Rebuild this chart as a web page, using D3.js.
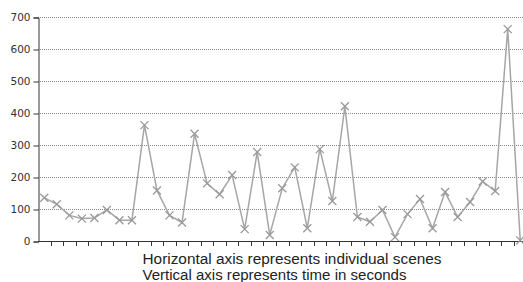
<!DOCTYPE html>
<html>
<head>
<meta charset="utf-8">
<script src="https://cdn.jsdelivr.net/npm/d3@7"></script>
<style>
  body { margin: 0; background: #fff; }
  svg { display: block; }
</style>
</head>
<body>
<div id="chart"></div>
<script>
// scene durations in seconds, one value per scene
var sceneTimes = [135, 115, 80, 70, 72, 97, 65, 65, 362, 158, 80, 58, 335, 180, 146, 206,
  37, 278, 19, 165, 230, 40, 287, 125, 421, 75, 60, 97, 12, 84, 131, 40, 153, 75, 122,
  186, 156, 662, 2];
var scenes = sceneTimes.map(function(d, i) { return i + 1; });
var yTicks = [0, 100, 200, 300, 400, 500, 600, 700];
var captions = ['Horizontal axis represents individual scenes', 'Vertical axis represents time in seconds'];
var captionWidths = [299, 264];

var width = 523, height = 282;
var plotLeft = 38, plotRight = 526.5, plotTop = 17, plotBottom = 241;

var svg = d3.select('#chart').append('svg').attr('width', width).attr('height', height);

var x = d3.scaleBand().domain(scenes).range([plotLeft, plotRight]);
var y = d3.scaleLinear().domain([0, 700]).range([plotBottom, plotTop]);

// dotted grid lines
svg.append('g').selectAll('line')
  .data(yTicks.filter(function(t) { return t > 0; }))
  .join('line')
  .attr('x1', plotLeft).attr('x2', width)
  .attr('y1', function(d) { return y(d) + 0.5; }).attr('y2', function(d) { return y(d) + 0.5; })
  .attr('stroke', '#888').attr('stroke-width', 1).attr('stroke-dasharray', '1,1');

// y axis
var yAxis = svg.append('g').attr('transform', 'translate(' + (plotLeft + 0.5) + ',0.5)')
  .call(d3.axisLeft(y).tickValues(yTicks).tickSize(5).tickPadding(3));
yAxis.select('.domain').attr('stroke', '#333');
yAxis.selectAll('.tick line').attr('stroke', '#333');
yAxis.selectAll('text').attr('fill', '#333').attr('font-family', 'DejaVu Sans, Verdana, sans-serif').attr('font-size', '10.5px');

// x axis: ticks at band edges
var edges = scenes.map(function(s) { return x(s); });
var xg = svg.append('g');
xg.append('line').attr('x1', plotLeft).attr('x2', width).attr('y1', plotBottom + 0.5).attr('y2', plotBottom + 0.5)
  .attr('stroke', '#333');
xg.selectAll('line.tk').data(edges.slice(1)).join('line').attr('class', 'tk')
  .attr('x1', function(d) { return Math.round(d) + 0.5; }).attr('x2', function(d) { return Math.round(d) + 0.5; })
  .attr('y1', plotBottom).attr('y2', plotBottom + 5).attr('stroke', '#333');

// series line
var cx = function(d, i) { return x(scenes[i]) + x.bandwidth() / 2; };
svg.append('path')
  .datum(sceneTimes)
  .attr('fill', 'none').attr('stroke', '#a6a6a6').attr('stroke-width', 1.5)
  .attr('d', d3.line().x(cx).y(function(d) { return y(d); }));

// x markers
var m = 4;
svg.append('g').selectAll('path').data(sceneTimes).join('path')
  .attr('d', function(d, i) {
    var px = cx(d, i), py = y(d);
    return 'M' + (px - m) + ',' + (py - m) + 'L' + (px + m) + ',' + (py + m) +
      'M' + (px - m) + ',' + (py + m) + 'L' + (px + m) + ',' + (py - m);
  })
  .attr('stroke', '#999').attr('stroke-width', 1.3).attr('fill', 'none');

// captions
svg.append('g').selectAll('text').data(captions).join('text')
  .attr('x', 142.5).attr('y', function(d, i) { return 263.5 + i * 16.5; })
  .attr('font-family', 'Liberation Sans, Arial, sans-serif').attr('font-size', '14px')
  .attr('textLength', function(d, i) { return captionWidths[i]; })
  .attr('lengthAdjust', 'spacingAndGlyphs')
  .attr('fill', '#222')
  .text(function(d) { return d; });
</script>
</body>
</html>
